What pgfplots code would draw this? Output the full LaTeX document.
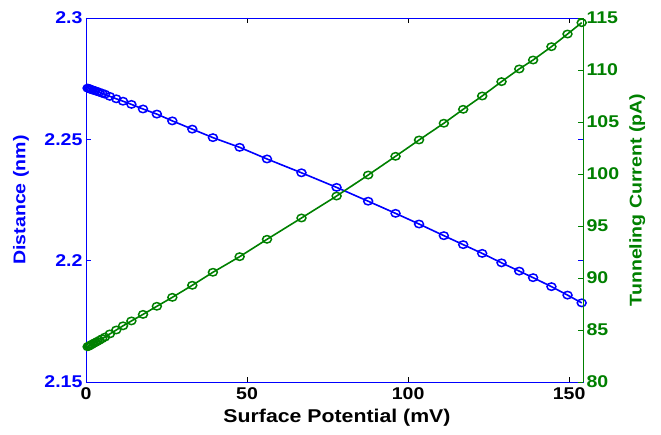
\documentclass[border=0pt]{standalone}
\usepackage{pgfplots}
\pgfplotsset{compat=1.18}
\usepackage{pgfplotstable}
\usepackage{fontspec}
\setmainfont{Liberation Sans}[FakeStretch=1.15]
\definecolor{mblue}{RGB}{0,0,255}
\definecolor{mgreen}{RGB}{0,128,0}

\pgfplotstableread{
x d
0.5 2.2711
0.8 2.2710
1.1 2.2708
1.5 2.2706
1.9 2.2704
2.4 2.2702
2.9 2.2700
3.5 2.2697
4.2 2.2694
5.0 2.2690
5.9 2.2686
7.4 2.2677
9.4 2.2667
11.5 2.2657
14.1 2.2644
17.7 2.2625
22.0 2.2604
26.8 2.2576
33.0 2.2542
39.4 2.2507
47.7 2.2467
56.2 2.2419
66.9 2.2362
77.8 2.2302
87.6 2.2245
96.1 2.2195
103.4 2.2151
111.1 2.2103
117.1 2.2066
123.0 2.2030
129.0 2.1991
134.5 2.1957
138.8 2.1930
144.5 2.1893
149.5 2.1858
153.9 2.1826
}\distdata

\pgfplotstableread{
x i
0.5 83.39
0.8 83.44
1.1 83.49
1.5 83.56
1.9 83.63
2.4 83.72
2.9 83.80
3.5 83.90
4.2 84.02
5.0 84.16
5.9 84.32
7.4 84.62
9.4 85.00
11.5 85.40
14.1 85.87
17.7 86.50
22.0 87.28
26.8 88.14
33.0 89.30
39.4 90.55
47.7 92.05
56.2 93.72
66.9 95.77
77.8 97.88
87.6 99.90
96.1 101.70
103.4 103.27
111.1 104.88
117.1 106.22
123.0 107.50
129.0 108.88
134.5 110.10
138.8 110.96
144.5 112.24
149.5 113.46
153.9 114.55
}\curdata

\newcommand{\lf}{\fontsize{17}{20}\selectfont\bfseries}
\newcommand{\xf}{\fontsize{18.5}{22}\selectfont\bfseries}

\begin{document}
\begin{tikzpicture}
\useasboundingbox (-86pt,-53pt) rectangle (575pt,382pt);
\begin{axis}[
  at={(0pt,0pt)}, anchor=south west,
  scale only axis, width=497pt, height=364pt,
  xmin=0, xmax=154.3, ymin=2.15, ymax=2.3,
  clip=false,
  xtick={0,50,100,150}, xticklabels={0,50,100,150},
  ytick={2.15,2.2,2.25,2.3}, yticklabels={2.15,2.2,2.25,2.3},
  tick align=inside, major tick length=5pt,
  xtick pos=both, ytick pos=both,
  axis line style={black, line width=1.1pt},
  y axis line style={mblue, line width=0.8pt},
  ytick style={mblue, line width=0.8pt},
  xtick style={black, line width=0.8pt},
  xticklabel style={font=\lf, text=black, yshift=-2pt},
  yticklabel style={font=\lf, text=mblue},
  xlabel={Surface Potential (mV)},
  ylabel={Distance (nm)},
  xlabel style={font=\xf, text=black, at={(axis description cs:0.505,-0.097)}, anchor=center},
  ylabel style={font=\lf, text=mblue, at={(axis description cs:-0.131,0.5)}, anchor=center},
]
\addplot[mblue, line width=1.6pt, mark=o, mark size=3.9pt,
  mark options={line width=1.5pt, xscale=1.15, yscale=0.95}] table[x=x, y=d] {\distdata};
\end{axis}
\begin{axis}[
  at={(0pt,0pt)}, anchor=south west,
  scale only axis, width=497pt, height=364pt,
  xmin=0, xmax=154.3, ymin=80, ymax=115,
  clip=false,
  axis x line=none,
  axis y line*=right,
  ytick={80,85,90,95,100,105,110,115},
  yticklabels={80,85,90,95,100,105,110,115},
  tick align=inside, major tick length=5pt,
  y axis line style={mgreen, line width=0.8pt, -},
  ytick style={mgreen, line width=0.8pt},
  yticklabel style={font=\lf, text=mgreen},
  ylabel={Tunneling Current (pA)},
  ylabel style={font=\lf, text=mgreen, at={(axis description cs:1.109,0.5)}, anchor=center, rotate=0},
]
\addplot[mgreen, line width=1.6pt, mark=o, mark size=3.9pt,
  mark options={line width=1.5pt, xscale=1.15, yscale=0.95}] table[x=x, y=i] {\curdata};
\end{axis}
\end{tikzpicture}
\end{document}
